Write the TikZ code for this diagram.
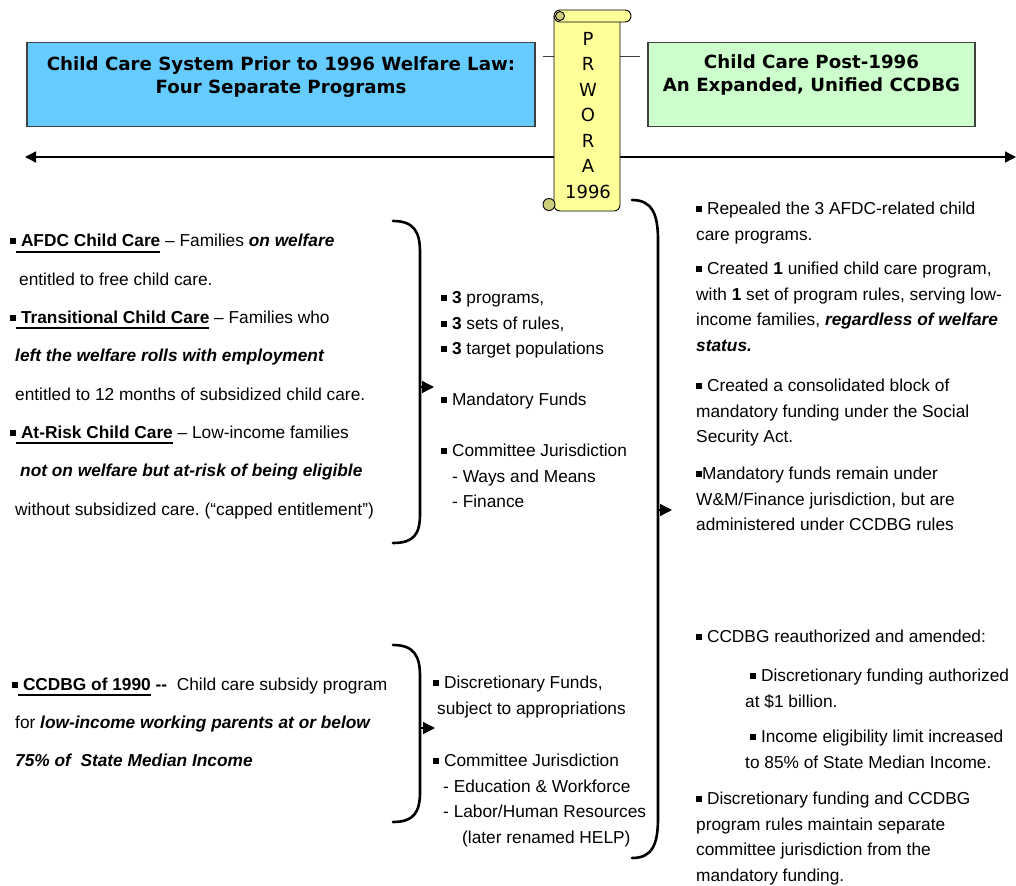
\documentclass[tikz,border=0pt]{standalone}
\usepackage{fontspec}
\setmainfont{Liberation Sans}
\newfontfamily\titlefont{DejaVu Sans}
\usetikzlibrary{arrows.meta,positioning}
\definecolor{preblue}{RGB}{102,204,255}
\definecolor{postgreen}{RGB}{204,255,204}
\definecolor{scrollfill}{RGB}{255,255,153}
\definecolor{scrollcurl}{RGB}{204,204,122}
\definecolor{edgegrey}{RGB}{64,64,64}
\newcommand{\blt}{\rule[2.5pt]{6pt}{6pt}}
\newcommand{\ulbar}[1]{\sbox0{#1}\rlap{\rule[-5.6pt]{\wd0}{2pt}}\usebox0}
\newcommand{\bfit}[1]{\textbf{\textit{#1}}}
\frenchspacing

\begin{document}
\begin{tikzpicture}[x=1pt, y=-1pt,
  titlebox/.style={rectangle, draw=edgegrey, line width=1.2pt, minimum height=84pt},
  titletext/.style={align=center, inner sep=0pt,
    font=\titlefont\bfseries\fontsize{18.2}{23.5}\selectfont},
  body/.style={anchor=north west, inner sep=0pt, align=left,
    font=\fontsize{17.3}{25.5}\selectfont},
  spaced/.style={body, font=\fontsize{17.3}{38.3}\selectfont},
  scroll/.style={draw=black, line width=0.9pt, fill=scrollfill},
  curl/.style={draw=black, line width=0.9pt, fill=scrollcurl},
  brace/.style={line width=2.6pt, line cap=round},
  arw/.style={-{Triangle[length=12pt,width=12pt]}, line width=1.4pt},
  timeline/.style={{Triangle[length=11pt,width=11pt]}-{Triangle[length=11pt,width=11pt]}, line width=1.4pt},
  link/.style={draw=edgegrey, line width=1pt},
]
  \useasboundingbox (0,0) rectangle (1016,885);

  \node[titlebox, fill=preblue, minimum width=508pt] (prebox) at (281,84.5) {};
  \node[titletext, below=14.2pt of prebox.north] (pretitle)
    {Child Care System Prior to 1996 Welfare Law:\\Four Separate Programs};
  \node[titlebox, fill=postgreen, minimum width=327pt] (postbox) at (811.5,84.5) {};
  \node[titletext, below=12.2pt of postbox.north] (posttitle)
    {Child Care Post-1996\\An Expanded, Unified CCDBG};

  \coordinate (linkL) at (543,57);
  \coordinate (linkR) at (640,57);
  \draw[link] (linkL) -- (linkR);
  \coordinate (pastend) at (25,157);
  \coordinate (futureend) at (1016,157);
  \draw[timeline] (pastend) -- (futureend);

  \draw[scroll, rounded corners=6pt] (554,16) -- (554,211) -- (620,211) -- (620,16);
  \draw[scroll, rounded corners=6pt] (554,10) rectangle (631,22);
  \draw[curl] (560,16) circle[radius=4.5];
  \draw[curl] (549,204.5) circle[radius=6];
  \node[font=\titlefont\fontsize{18}{25.5}\selectfont, align=center, inner sep=0pt,
    anchor=north] (prwora) at (588,32) {P\\R\\W\\O\\R\\A\\1996};

  \node[spaced] (afdc) at (10,234.2)
    {\blt\ulbar{\ \textbf{AFDC Child Care}} -- Families \bfit{on welfare}\\
     \hspace*{9pt}entitled to free child care.\\
     \blt\ulbar{\ \textbf{Transitional Child Care}} -- Families who\\
     \hspace*{5pt}\bfit{left the welfare rolls with employment}\\
     \hspace*{5pt}entitled to 12 months of subsidized child care.\\
     \blt\ulbar{\ \textbf{At-Risk Child Care}} -- Low-income families\\
     \hspace*{10pt}\bfit{not on welfare but at-risk of being eligible}\\
     \hspace*{5pt}without subsidized care. (``capped entitlement'')};
  \node[spaced] (ccdbg) at (12,677.5)
    {\blt\ulbar{\ \textbf{CCDBG of 1990}} \textbf{-{}-}\ \ Child care subsidy program\\
     \hspace*{3pt}for \bfit{low-income working parents at or below}\\
     \hspace*{3pt}\bfit{75\% of \ State Median Income}};

  \node[body] (three) at (441,291.5)
    {\blt\ \textbf{3} programs,\\\blt\ \textbf{3} sets of rules,\\\blt\ \textbf{3} target populations};
  \node[body] (mandfunds) at (441,393.2) {\blt\ Mandatory Funds};
  \node[body] (wmjur) at (441,444.2)
    {\blt\ Committee Jurisdiction\\\hspace*{11pt}- Ways and Means\\\hspace*{11pt}- Finance};
  \node[body] (discfunds) at (433,676.2)
    {\blt\ Discretionary Funds,\\\hspace*{4pt}subject to appropriations};
  \node[body] (edjur) at (433,754.2)
    {\blt\ Committee Jurisdiction\\\hspace*{10pt}- Education \& Workforce\\
     \hspace*{10pt}- Labor/Human Resources\\\hspace*{29pt}(later renamed HELP)};

  \node[body] (repealed) at (696,202.2)
    {\blt\ Repealed the 3 AFDC-related child\\care programs.};
  \node[body] (unified) at (696,262.2)
    {\blt\ Created \textbf{1} unified child care program,\\with \textbf{1} set of program rules, serving low-\\
     income families, \bfit{regardless of welfare}\\\bfit{status.}};
  \node[body] (block) at (696,379.2)
    {\blt\ Created a consolidated block of\\mandatory funding under the Social\\Security Act.};
  \node[body] (wmrules) at (696,467.2)
    {\blt Mandatory funds remain under\\W\&M/Finance jurisdiction, but are\\administered under CCDBG rules};
  \node[body] (reauth) at (696,630.2) {\blt\ CCDBG reauthorized and amended:};
  \node[body] (billion) at (745,669.2)
    {\hspace*{5pt}\blt\ Discretionary funding authorized\\at \$1 billion.};
  \node[body] (income) at (745,730.2)
    {\hspace*{5pt}\blt\ Income eligibility limit increased\\to 85\% of State Median Income.};
  \node[body] (separate) at (696,792)
    {\blt\ Discretionary funding and CCDBG\\program rules maintain separate\\
     committee jurisdiction from the\\mandatory funding.};

  \draw[brace] (393,221) .. controls (414,221) and (420,232) .. (420,252)
    -- (420,514) .. controls (420,534) and (414,543) .. (393,543);
  \draw[brace] (393,645) .. controls (414,645) and (420,656) .. (420,676)
    -- (420,792) .. controls (420,812) and (414,822) .. (393,822);
  \draw[brace] (632,200) .. controls (652,200) and (658,214) .. (658,240)
    -- (658,818) .. controls (658,845) and (652,858) .. (632,858);

  \coordinate (oldroot) at (420,387);
  \coordinate (oldtip) at (434,387);
  \draw[arw] (oldroot) -- (oldtip);
  \coordinate (blockroot) at (420,728);
  \coordinate (blocktip) at (435,728);
  \draw[arw] (blockroot) -- (blocktip);
  \coordinate (newroot) at (658,510);
  \coordinate (newtip) at (672,510);
  \draw[arw] (newroot) -- (newtip);
\end{tikzpicture}
\end{document}
